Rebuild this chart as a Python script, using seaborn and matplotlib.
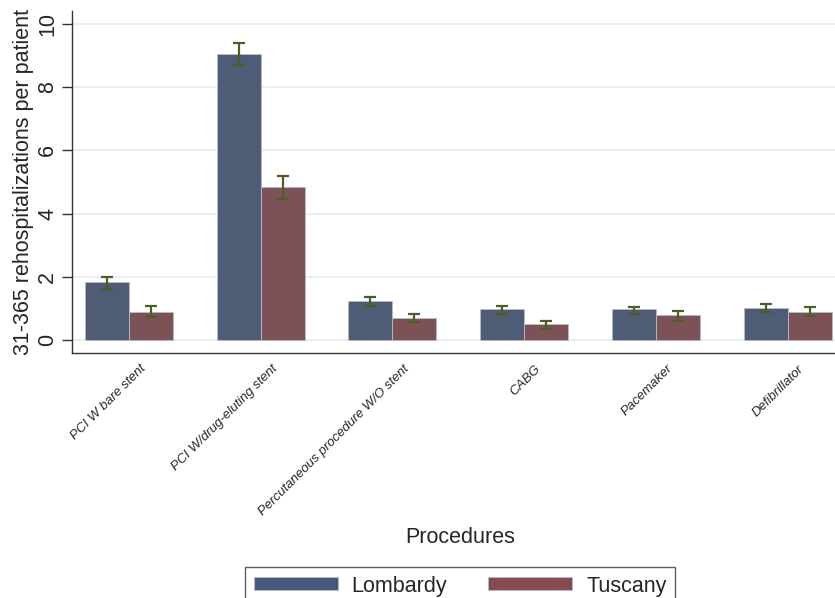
import matplotlib
matplotlib.use("Agg")
import matplotlib.pyplot as plt
import numpy as np
import pandas as pd
import seaborn as sns

# Mean 31-365 day rehospitalizations per patient, by procedure and region
procedures = [
    "PCI W bare stent",
    "PCI W/drug-eluting stent",
    "Percutaneous procedure W/O stent",
    "CABG",
    "Pacemaker",
    "Defibrillator",
]
regions = ["Lombardy", "Tuscany"]
lombardy_mean = [1.83, 9.06, 1.22, 0.97, 0.97, 1.02]
lombardy_low = [1.63, 8.70, 1.08, 0.83, 0.83, 0.89]
lombardy_high = [1.99, 9.39, 1.35, 1.08, 1.06, 1.14]
tuscany_mean = [0.89, 4.83, 0.70, 0.50, 0.78, 0.90]
tuscany_low = [0.74, 4.45, 0.56, 0.36, 0.60, 0.75]
tuscany_high = [1.08, 5.20, 0.83, 0.61, 0.92, 1.05]
y_ticks = [0, 2, 4, 6, 8, 10]

colors = {"Lombardy": "#475a7d", "Tuscany": "#844b52"}
err_color = "#4b5e23"

df = pd.DataFrame({
    "procedure": procedures * 2,
    "region": ["Lombardy"] * len(procedures) + ["Tuscany"] * len(procedures),
    "value": lombardy_mean + tuscany_mean,
    "low": lombardy_low + tuscany_low,
    "high": lombardy_high + tuscany_high,
})

sns.set_theme(style="white")
plt.rcParams["font.family"] = ["Liberation Sans", "DejaVu Sans"]

fig = plt.figure(figsize=(8.35, 5.98), dpi=100)
ax = fig.add_axes([0.0862, 0.4097, 0.9138, 0.5719])

sns.barplot(data=df, x="procedure", y="value", hue="region", order=procedures,
            hue_order=regions, palette=colors, width=0.667, errorbar=None,
            edgecolor="#b8bcc8", linewidth=0.6, ax=ax, legend=False, zorder=2)

# Confidence intervals drawn at the centre of each bar
for i, region in enumerate(regions):
    sub = df[df["region"] == region].set_index("procedure").loc[procedures]
    patches = ax.patches[i * len(procedures):(i + 1) * len(procedures)]
    xs = [p.get_x() + p.get_width() / 2 for p in patches]
    yerr = np.vstack([sub["value"] - sub["low"], sub["high"] - sub["value"]])
    ax.errorbar(xs, sub["value"], yerr=yerr, fmt="none", ecolor=err_color,
                elinewidth=1.6, capsize=4.5, capthick=1.6, zorder=3)

ax.set_ylim(-0.41, 10.41)
ax.set_xlim(-0.432, 5.36)
ax.set_yticks(y_ticks)
ax.set_yticklabels([str(t) for t in y_ticks], rotation=90, va="center", fontsize=15.5)
ax.yaxis.grid(True, color="#e6ebee", linewidth=1.2, zorder=0)
ax.set_axisbelow(True)

# Slanted labels end just right of each group's centre
ax.set_xticks([i + 0.08 for i in range(len(procedures))])
ax.set_xticklabels(procedures, rotation=45, ha="right", rotation_mode="anchor",
                   fontsize=9.5, style="italic")
ax.tick_params(axis="y", which="major", left=True, length=7, width=1, color="#333333", pad=3)
ax.tick_params(axis="x", which="major", bottom=False, pad=1)

for side in ["top", "right"]:
    ax.spines[side].set_visible(False)
for side in ["left", "bottom"]:
    ax.spines[side].set_color("#333333")
    ax.spines[side].set_linewidth(1.0)

ax.set_ylabel("31-365 rehospitalizations per patient", fontsize=15.5, labelpad=2)
ax.set_xlabel("")
fig.text(0.551, 0.102, "Procedures", ha="center", va="center", fontsize=15.5)

handles = [plt.Rectangle((0, 0), 1, 1, facecolor=colors[r], edgecolor="#b8bcc8", linewidth=0.6)
           for r in regions]
leg = fig.legend(handles, regions, loc="upper center", bbox_to_anchor=(0.551, 0.052),
                 ncol=2, fontsize=15.5, frameon=True, fancybox=False, edgecolor="#333333",
                 handlelength=3.9, handleheight=0.55, columnspacing=1.9, handletextpad=0.65,
                 borderpad=0.4, borderaxespad=0)
leg.get_frame().set_linewidth(1.0)

fig.savefig("out.png", dpi=100)
